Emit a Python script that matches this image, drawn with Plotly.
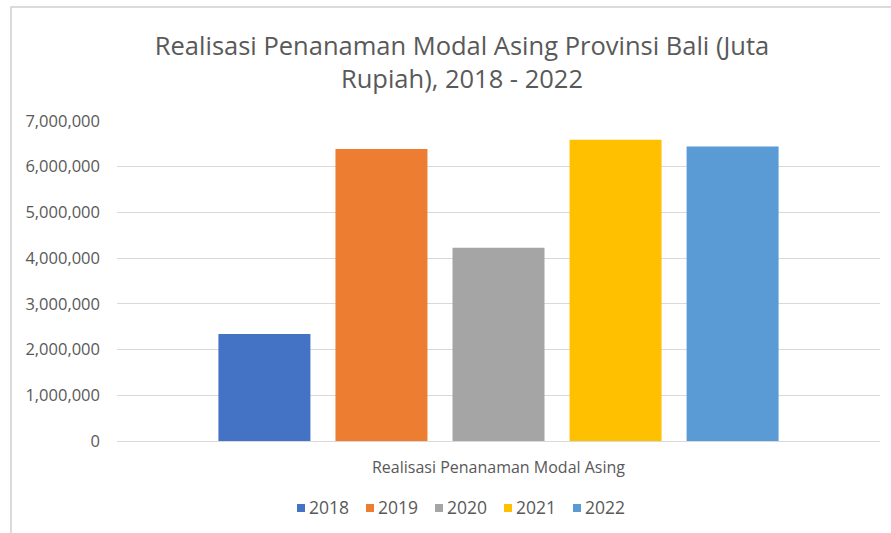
import plotly.graph_objects as go

# Foreign direct investment realisation, Bali province (million rupiah)
category = ["Realisasi Penanaman Modal Asing"]
years = ["2018", "2019", "2020", "2021", "2022"]
values = [2340000, 6390000, 4225000, 6590000, 6440000]
colors = ["#4472C4", "#ED7D31", "#A5A5A5", "#FFC000", "#5B9BD5"]
y_ticks = [0, 1000000, 2000000, 3000000, 4000000, 5000000, 6000000, 7000000]

FONT = "Open Sans"
TEXT = "#595959"

fig = go.Figure()
for yr, val, col in zip(years, values, colors):
    fig.add_trace(go.Bar(name=yr, x=category, y=[val], showlegend=False,
                         marker=dict(color=col, line=dict(width=0))))

W, H = 891, 533
L, R, T, B = 117, 11, 121, 92
pw, ph = W - L - R, H - T - B

def px_x(p):
    return (p - L) / pw

def px_y(p):
    return (H - B - p) / ph

# Legend row under the axis: a small colour key followed by the year
shapes = []
annotations = []
key_left, key_pitch, key_size, key_mid = 297, 69, 8, 508
for i, (yr, col) in enumerate(zip(years, colors)):
    x0 = key_left + i * key_pitch
    shapes.append(dict(type="rect", xref="paper", yref="paper",
                       x0=px_x(x0), x1=px_x(x0 + key_size),
                       y0=px_y(key_mid + key_size / 2), y1=px_y(key_mid - key_size / 2),
                       fillcolor=col, line=dict(width=0)))
    annotations.append(dict(text=yr, xref="paper", yref="paper",
                            x=px_x(x0 + key_size + 2), y=px_y(key_mid - 1),
                            xanchor="left", yanchor="middle", showarrow=False,
                            font=dict(family=FONT, size=17.5, color=TEXT)))

# Chart-area frame
shapes.append(dict(type="rect", xref="paper", yref="paper",
                   x0=px_x(11), x1=px_x(W + 20), y0=px_y(H + 20), y1=px_y(7),
                   line=dict(color="#D0D0D0", width=1.5), fillcolor="rgba(0,0,0,0)", layer="below"))

fig.update_layout(
    width=W, height=H,
    margin=dict(l=L, r=R, t=T, b=B),
    paper_bgcolor="white", plot_bgcolor="rgba(0,0,0,0)",
    barmode="group", bargap=0.233, bargroupgap=0.214,
    font=dict(family=FONT, color=TEXT),
    title=dict(
        text="Realisasi Penanaman Modal Asing Provinsi Bali (Juta<br>Rupiah), 2018 - 2022",
        x=px_x(462), xref="paper", xanchor="center",
        y=1 - 55 / H, yanchor="middle",
        font=dict(family=FONT, size=25.5, color=TEXT),
    ),
    xaxis=dict(showgrid=False, showline=False, ticks="", tickfont=dict(size=16, color=TEXT),
               ticklabelstandoff=15),
    yaxis=dict(range=[0, 7000000], tickvals=y_ticks, tickformat=",d",
               showgrid=True, gridcolor="#D9D9D9", gridwidth=1, zeroline=True,
               zerolinecolor="#D9D9D9", zerolinewidth=1, showline=False, ticks="",
               tickfont=dict(size=16.5, color=TEXT), ticklabelstandoff=16),
    showlegend=False,
    shapes=shapes,
    annotations=annotations,
)

fig.write_html("out.html")
